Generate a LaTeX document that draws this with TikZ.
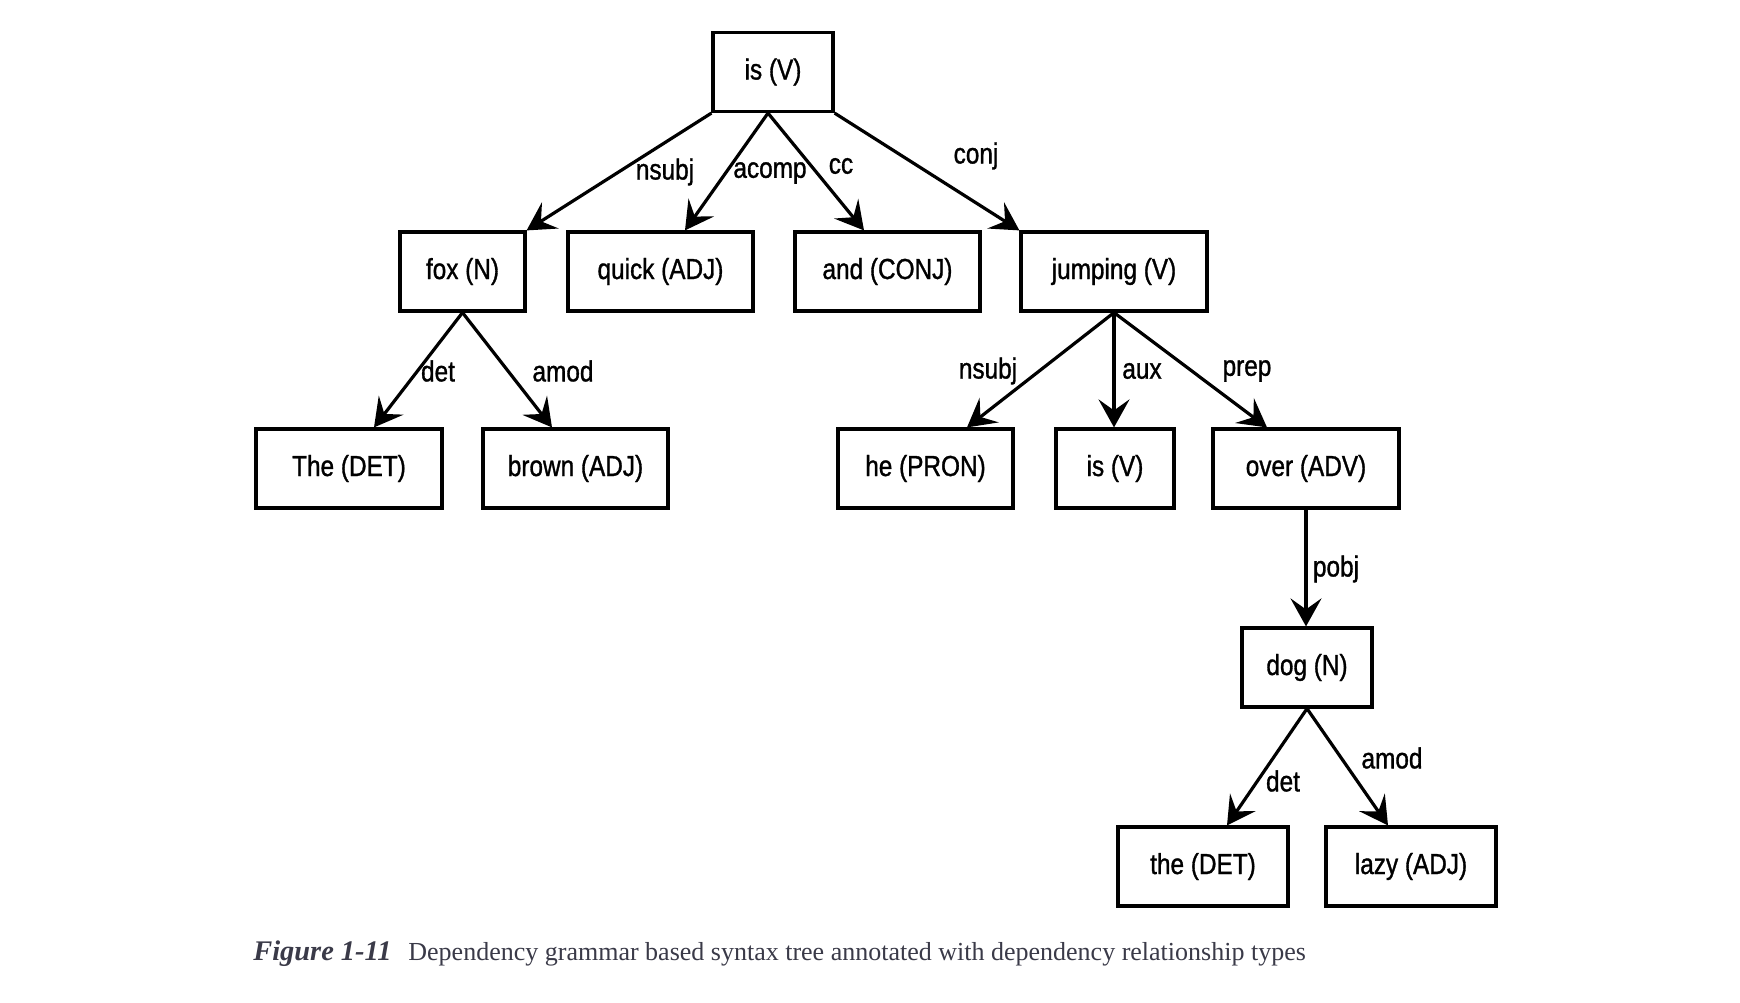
\documentclass[tikz,border=0pt]{standalone}
\usepackage{fontspec}
\usetikzlibrary{arrows.meta,calc}
\newfontfamily\boxfont{Liberation Sans}[FakeStretch=0.84,FakeBold=1.1]
\newfontfamily\capfont{Liberation Serif}
\definecolor{capgray}{HTML}{3A3A48}
\begin{document}
\begin{tikzpicture}[x=0.5pt,y=-0.5pt,
  box/.style={draw, line width=1.6pt, minimum height=39.5pt, inner sep=0pt,
    font=\boxfont\fontsize{14.5}{16}\selectfont},
  lbl/.style={inner sep=0pt, font=\boxfont\fontsize{14.5}{16}\selectfont},
  edge/.style={line width=1.6pt, -{Stealth[length=14pt,width=15.5pt,inset=5.5pt]}}]
\useasboundingbox (0,0) rectangle (1740,1002);
\fill[white] (0,0) rectangle (1740,1002);
% nodes
\node[box, minimum width=60pt] (isV) at (773,72) {is (V)};
\node[box, minimum width=62.5pt] (fox) at (462.5,271.5) {fox (N)};
\node[box, minimum width=92.5pt] (quick) at (660.5,271.5) {quick (ADJ)};
\node[box, minimum width=92.5pt] (and) at (887.5,271.5) {and (CONJ)};
\node[box, minimum width=93pt] (jumping) at (1114,271.5) {jumping (V)};
\node[box, minimum width=93pt] (The) at (349,468.5) {The (DET)};
\node[box, minimum width=92.5pt] (brown) at (575.5,468.5) {brown (ADJ)};
\node[box, minimum width=87.5pt] (he) at (925.5,468.5) {he (PRON)};
\node[box, minimum width=59pt] (isV2) at (1115,468.5) {is (V)};
\node[box, minimum width=93pt] (over) at (1306,468.5) {over (ADV)};
\node[box, minimum width=65pt] (dog) at (1307,667.5) {dog (N)};
\node[box, minimum width=85pt] (theDET) at (1203,866.5) {the (DET)};
\node[box, minimum width=85pt] (lazy) at (1411,866.5) {lazy (ADJ)};
% edges
\draw[edge] (isV.south west) -- (fox.north east);
\draw[edge] ($(isV.south)+(-5,0)$) -- ($(quick.north)+(24.5,0)$);
\draw[edge] ($(isV.south)+(-5,0)$) -- ($(and.north)+(-23.5,0)$);
\draw[edge] (isV.south east) -- (jumping.north west);
\draw[edge] (fox.south) -- ($(The.north)+(25,0)$);
\draw[edge] (fox.south) -- ($(brown.north)+(-23.5,0)$);
\draw[edge] (jumping.south) -- ($(he.north)+(41.5,0)$);
\draw[edge] (jumping.south) -- (jumping.south |- isV2.north);
\draw[edge] (jumping.south) -- ($(over.north)+(-39,0)$);
\draw[edge] (over.south) -- (over.south |- dog.north);
\draw[edge] (dog.south) -- ($(theDET.north)+(24,0)$);
\draw[edge] (dog.south) -- ($(lazy.north)+(-23,0)$);
% edge labels
\node[lbl] (l1) at (665,172) {nsubj};
\node[lbl] (l2) at (770,173) {acomp};
\node[lbl] (l3) at (841,166) {cc};
\node[lbl] (l4) at (976,156) {conj};
\node[lbl] (l5) at (438,371) {det};
\node[lbl] (l6) at (563,371) {amod};
\node[lbl] (l7) at (988,371) {nsubj};
\node[lbl] (l8) at (1142,371) {aux};
\node[lbl] (l9) at (1247,371) {prep};
\node[lbl] (l10) at (1336,569) {pobj};
\node[lbl] (l11) at (1283,781) {det};
\node[lbl] (l12) at (1392,758) {amod};
% caption
\node[anchor=base west, inner sep=0pt, text=capgray, font=\capfont\fontsize{14.2}{15}\selectfont\bfseries\itshape] (fig) at (253,960) {Figure 1-11};
\node[anchor=base west, inner sep=0pt, text=capgray, font=\capfont\fontsize{13}{15}\selectfont] (cap) at (408,960)
  {Dependency grammar based syntax tree annotated with dependency relationship types};
\end{tikzpicture}
\end{document}
